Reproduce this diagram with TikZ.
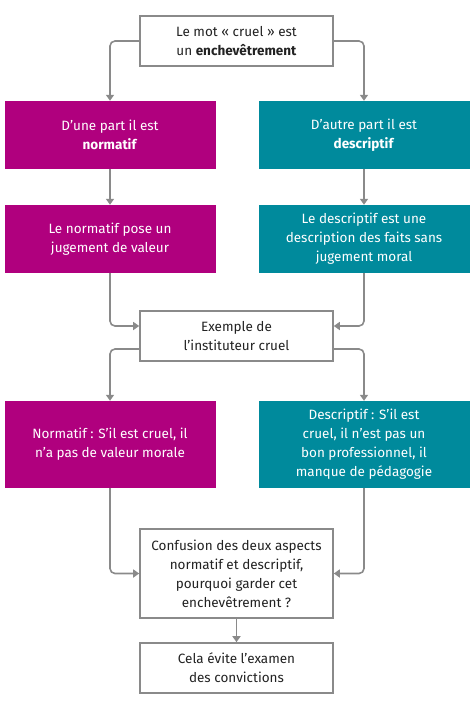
\documentclass[tikz,border=0pt]{standalone}
\usepackage{fontspec}
\setmainfont{Fira Sans}
\usetikzlibrary{arrows.meta}
\definecolor{mag}{HTML}{B0007E}
\definecolor{teal}{HTML}{008A9C}
\definecolor{gline}{HTML}{8A8A8A}
\definecolor{txt}{HTML}{222222}
\begin{document}
\begin{tikzpicture}[x=1pt,y=-1pt,
  base/.style={rectangle,inner sep=0pt,align=center,font=\fontsize{13.5}{19}\selectfont},
  wbox/.style={base,draw=gline,line width=1.6pt,fill=white,text=txt,minimum width=193pt},
  mbox/.style={base,fill=mag,text=white,minimum width=211pt},
  tbox/.style={base,fill=teal,text=white,minimum width=211pt},
  conn/.style={draw=gline,line width=1.6pt,rounded corners=5pt,-{Triangle[width=8pt,length=6pt]}}]
\useasboundingbox (0,0) rectangle (476,702);
\node[wbox,minimum height=50pt] (top) at (236.5,41) {Le mot « cruel » est\\un \textbf{enchevêtrement}};
\node[mbox,minimum height=68pt] (m1) at (110,135) {D’une part il est\\\textbf{normatif}};
\node[tbox,minimum height=68pt] (t1) at (364,135) {D’autre part il est\\\textbf{descriptif}};
\node[mbox,minimum height=68pt] (m2) at (110,239) {Le normatif pose un\\jugement de valeur};
\node[tbox,minimum height=68pt] (t2) at (364,239) {Le descriptif est une\\description des faits sans\\jugement moral};
\node[wbox,minimum height=50pt] (ex) at (236.5,336) {Exemple de\\l’instituteur cruel};
\node[mbox,minimum height=87pt] (m3) at (110,444.5) {Normatif : S’il est cruel, il\\n’a pas de valeur morale};
\node[tbox,minimum height=87pt] (t3) at (364,444.5) {Descriptif : S’il est\\cruel, il n’est pas un\\bon professionnel, il\\manque de pédagogie};
\node[wbox,minimum height=89pt] (conf) at (236.5,573.5) {Confusion des deux aspects\\normatif et descriptif,\\pourquoi garder cet\\enchevêtrement ?};
\node[wbox,minimum height=50pt] (cela) at (236.5,668) {Cela évite l’examen\\des convictions};
\draw[conn] (top.west) -| (m1.north);
\draw[conn] (top.east) -| (t1.north);
\draw[conn] (m1.south) -- (m2.north);
\draw[conn] (t1.south) -- (t2.north);
\draw[conn] (m2.south) |- ([yshift=10pt]ex.west);
\draw[conn] (t2.south) |- ([yshift=10pt]ex.east);
\draw[conn] ([yshift=-13pt]ex.west) -| (m3.north);
\draw[conn] ([yshift=-13pt]ex.east) -| (t3.north);
\draw[conn] (m3.south) |- (conf.west);
\draw[conn] (t3.south) |- (conf.east);
\draw[conn] (conf.south) -- (cela.north);
\end{tikzpicture}
\end{document}
